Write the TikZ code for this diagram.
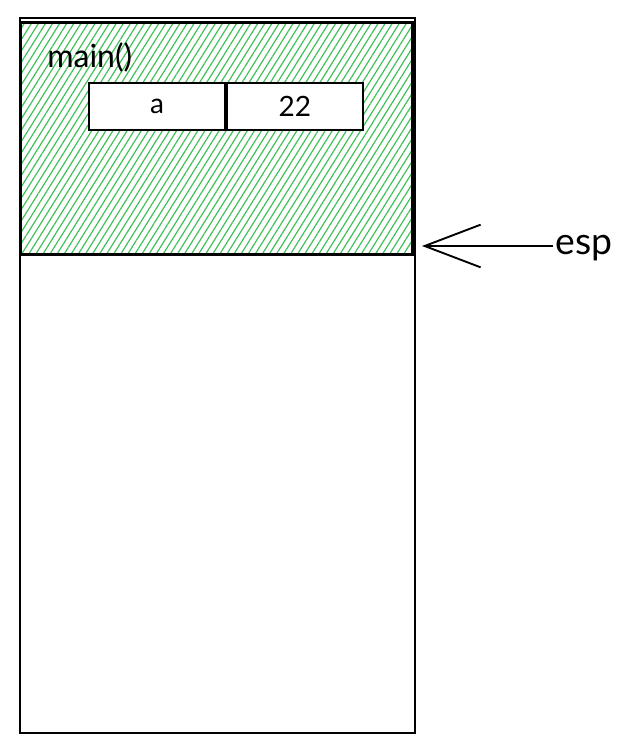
\documentclass[tikz,border=0pt]{standalone}
\usepackage{fontspec}
\setmainfont{Lato}
\usetikzlibrary{positioning,patterns.meta,arrows.meta}
\definecolor{hatchgreen}{HTML}{40C057}
\begin{document}
\begin{tikzpicture}[x=0.75pt,y=-0.75pt,
  stackbox/.style={draw, line width=1.8pt, minimum width=296pt, minimum height=536pt, inner sep=0pt},
  framebox/.style={draw, line width=1.8pt, pattern={Lines[angle=58,distance=4.5pt,line width=0.9pt]}, pattern color=hatchgreen, minimum width=294pt, minimum height=174pt, inner sep=0pt},
  cellbox/.style={draw, fill=white, line width=1.4pt, minimum width=102pt, minimum height=35pt, inner sep=0pt, font=\fontsize{21}{25}\selectfont}]
\useasboundingbox (0,0) rectangle (640,753);
\node[stackbox] (stack) at (217.5,375.5){};
\node[framebox] (frame) at (216.5,138.5){};
\node[anchor=base west, inner sep=0pt, font=\fontsize{24}{28}\selectfont] (fname) at (47,67){main()};
\node[cellbox] (cellname) at (157,106.5){a};
\node[cellbox, right=0pt of cellname] (cellvalue){22};
\coordinate (esptip) at (422,246);
\node[anchor=base west, inner sep=2pt, font=\fontsize{28}{32}\selectfont] (esp) at (553,254){esp};
\draw[line width=1.4pt, -{Straight Barb[length=42pt,width=32pt,line width=1.4pt]}](esp.west |- esptip) -- (esptip);
\end{tikzpicture}
\end{document}
